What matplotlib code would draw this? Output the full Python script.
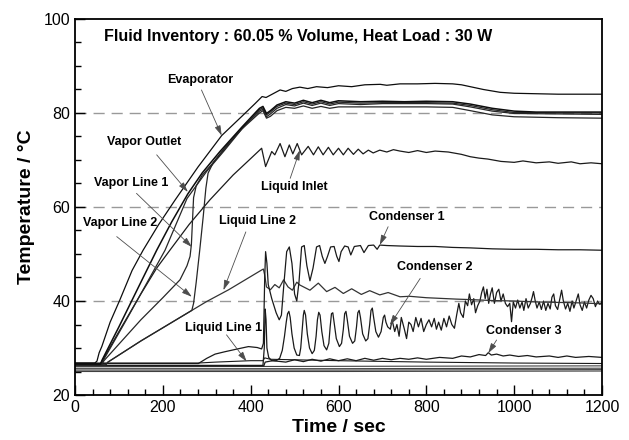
import matplotlib
matplotlib.use("Agg")
import matplotlib.pyplot as plt
from matplotlib.ticker import MultipleLocator

plt.rcParams['font.family'] = ['Liberation Sans', 'DejaVu Sans']

# ---- data (time in s, temperature in C) ----
evap_t = [0, 45, 50, 55, 61, 80, 102, 130, 155, 190, 228, 280, 334, 380, 410, 426, 435, 445, 467, 480,
          495, 512, 530, 550, 575, 600, 630, 660, 695, 710, 740, 780, 820, 860, 880, 900, 930, 968, 1000,
          1050, 1100, 1150, 1200]
evap_T = [26.8, 26.8, 27.2, 29.0, 30.3, 35.5, 40.2, 46.5, 50.8, 56.2, 61.5, 68.5, 75.2, 79.3, 82.0, 83.5,
          83.3, 83.8, 84.9, 84.6, 85.2, 85.5, 85.2, 85.6, 85.4, 85.8, 85.6, 86.0, 86.1, 85.9, 86.2, 86.2,
          86.3, 86.2, 86.0, 85.6, 85.0, 84.4, 84.2, 84.1, 84.0, 84.0, 84.0]

vo_a_t = [0, 58, 62, 100, 150, 186, 220, 257, 290, 330, 380, 420, 428, 436, 445, 460, 480, 500, 520, 540,
          560, 580, 600, 650, 700, 750, 800, 860, 900, 950, 1000, 1050, 1100, 1200]
vo_a_T = [26.6, 26.6, 27.5, 34.5, 44.0, 50.8, 56.8, 62.8, 67.3, 71.8, 77.0, 81.0, 81.4, 79.9, 80.5, 81.7,
          82.4, 82.1, 82.7, 82.2, 82.7, 82.2, 82.6, 82.4, 82.5, 82.4, 82.5, 82.4, 81.9, 81.0, 80.4, 80.2,
          80.2, 80.2]

vo_b_t = [0, 60, 64, 120, 205, 255, 300, 340, 380, 420, 428, 436, 445, 460, 480, 500, 520, 540, 560, 580,
          600, 650, 700, 800, 860, 900, 950, 1000, 1100, 1200]
vo_b_T = [26.6, 26.6, 27.3, 36.5, 50.8, 61.8, 67.6, 72.0, 76.6, 80.7, 81.1, 79.6, 80.2, 81.4, 82.1, 81.8,
          82.4, 81.9, 82.4, 81.9, 82.3, 82.1, 82.2, 82.2, 82.1, 81.6, 80.7, 80.1, 80.0, 80.0]

vl1_t = [0, 62, 66, 150, 200, 239, 255, 262, 265, 268, 270, 276, 290, 320, 380, 420, 428, 436, 445, 460,
         480, 500, 520, 540, 560, 580, 600, 650, 700, 800, 860, 900, 950, 1000, 1100, 1200]
vl1_T = [26.6, 26.6, 27.3, 36.0, 40.7, 44.5, 47.5, 49.5, 52.0, 58.0, 62.0, 64.5, 66.8, 70.0, 76.8, 80.4,
         80.8, 79.2, 79.8, 81.0, 81.8, 81.5, 82.1, 81.6, 82.1, 81.6, 82.0, 81.8, 82.0, 82.0, 81.9, 81.3,
         80.4, 79.9, 79.8, 79.7]

vl2_t = [0, 70, 75, 150, 200, 266, 270, 276, 284, 292, 298, 303, 315, 340, 380, 420, 428, 436, 445, 460,
         480, 500, 520, 540, 560, 580, 600, 700, 800, 860, 900, 950, 1000, 1100, 1200]
vl2_T = [26.4, 26.4, 27.0, 31.5, 34.3, 38.0, 39.5, 44.0, 50.8, 58.0, 64.0, 67.2, 69.5, 72.5, 76.6, 80.0,
         80.5, 78.9, 79.3, 80.5, 81.2, 81.0, 81.5, 81.0, 81.4, 81.0, 81.3, 81.3, 81.3, 81.2, 80.5, 79.6,
         79.2, 79.0, 78.9]

li_t = [0, 58, 62, 100, 150, 186, 216, 260, 307, 360, 400, 425, 434, 448, 455, 467, 478, 488, 496, 506,
        516, 531, 543, 554, 565, 577, 588, 600, 611, 622, 634, 645, 656, 668, 679, 694, 710, 725, 740, 760,
        780, 800, 820, 850, 880, 900, 920, 940, 970, 1000, 1020, 1050, 1080, 1100, 1130, 1150, 1175, 1200]
li_T = [26.6, 26.6, 27.3, 33.5, 41.5, 47.0, 50.8, 56.3, 61.5, 66.8, 70.3, 72.5, 68.6, 71.8, 71.1, 73.5,
        70.7, 73.2, 71.3, 73.5, 71.1, 72.9, 71.1, 72.8, 71.1, 72.7, 71.1, 72.5, 71.1, 72.5, 71.2, 72.3,
        71.3, 72.1, 71.5, 72.1, 71.7, 72.2, 71.9, 71.6, 72.0, 71.6, 71.9, 71.7, 71.2, 70.7, 70.4, 70.2,
        69.7, 69.5, 69.8, 69.4, 69.6, 69.3, 69.6, 69.2, 69.4, 69.2]

ll2_t = [0, 70, 75, 150, 200, 266, 300, 350, 400, 425, 429, 432, 436, 445, 455, 465, 475, 485, 495, 505,
         512, 535, 554, 573, 592, 611, 630, 652, 671, 694, 713, 740, 762, 800, 869, 900, 950, 1000, 1050,
         1100, 1150, 1200]
ll2_T = [26.4, 26.4, 27.0, 31.5, 34.3, 38.0, 39.9, 42.4, 45.2, 46.6, 46.8, 45.5, 43.0, 42.4, 43.5, 42.8,
         44.5, 43.0, 42.3, 44.0, 43.4, 42.3, 43.8, 42.0, 42.9, 41.6, 42.6, 41.4, 42.2, 41.3, 41.8, 40.9,
         41.0, 40.7, 40.4, 40.3, 40.1, 40.0, 39.8, 39.7, 39.6, 39.4]

c1_t = [0, 281, 300, 319, 341, 370, 395, 415, 425, 429, 432, 434, 437, 440, 448, 458, 465, 470, 476, 482,
        488, 494, 500, 505, 510, 516, 522, 528, 535, 542, 550, 557, 563, 569, 575, 582, 590, 596, 601, 606,
        614, 622, 628, 636, 650, 658, 668, 680, 688, 694, 710, 740, 780, 820, 860, 900, 950, 1000, 1050,
        1100, 1150, 1200]
c1_T = [26.7, 26.7, 27.8, 28.7, 29.2, 29.8, 30.3, 30.1, 29.8, 31.0, 45.0, 50.5, 48.0, 43.5, 40.5, 37.5,
        36.0, 37.0, 44.0, 50.5, 51.5, 48.0, 41.5, 40.0, 44.0, 51.5, 51.8, 47.5, 44.3, 47.0, 51.5, 51.8,
        49.5, 48.0, 49.5, 51.5, 51.6, 49.5, 48.4, 50.5, 51.7, 51.5, 49.8, 51.6, 51.8, 50.3, 51.8, 51.9,
        51.0, 51.9, 51.8, 51.7, 51.6, 51.6, 51.4, 51.3, 51.1, 51.0, 51.0, 50.9, 50.9, 50.8]

c2_t = [0, 428, 431, 433, 435, 437, 441, 448, 458, 466, 472, 477, 481, 484, 487, 490, 494, 499, 505, 511,
        514, 517, 520, 522, 525, 529, 534, 540, 545, 549, 552, 555, 558, 562, 567, 573, 578, 581, 584, 587,
        590, 595, 602, 607, 611, 614, 617, 620, 625, 632, 637, 641, 644, 647, 650, 655, 662, 667, 671, 674,
        677, 680, 685, 691, 697, 702, 705, 708, 712, 718, 722, 728, 733, 738, 743, 750, 755, 760, 765, 770,
        776, 782, 788, 794, 800, 806, 812, 818, 823, 828, 834, 840, 846, 852, 858, 864, 869, 874, 878, 884,
        889, 894, 898, 903, 908, 912, 917, 922, 926, 930, 934, 938, 942, 946, 950, 955, 960, 965, 970, 975,
        980, 985, 990, 994, 998, 1003, 1008, 1013, 1018, 1022, 1027, 1032, 1037, 1041, 1044, 1048, 1052,
        1057, 1062, 1067, 1072, 1077, 1082, 1086, 1090, 1094, 1099, 1104, 1108, 1112, 1117, 1122, 1127,
        1132, 1136, 1141, 1146, 1150, 1155, 1160, 1165, 1170, 1175, 1180, 1185, 1190, 1195, 1200]
c2_T = [26.3, 26.3, 30.0, 38.3, 36.0, 30.0, 28.0, 27.3, 27.3, 27.8, 29.5, 32.5, 35.5, 37.3, 37.8, 36.5,
        33.0, 30.0, 28.5, 28.4, 30.0, 33.5, 37.0, 38.0, 37.0, 33.0, 30.0, 28.8, 29.5, 32.5, 36.0, 37.6,
        37.0, 33.5, 30.5, 29.6, 31.0, 34.5, 37.3, 37.5, 35.5, 32.0, 30.3, 31.0, 34.0, 37.3, 37.8, 36.0,
        32.5, 31.0, 31.5, 34.5, 37.5, 38.0, 36.5, 33.0, 31.5, 32.0, 35.0, 38.0, 38.5, 36.5, 33.5, 32.3,
        33.5, 36.5, 37.0, 35.5, 34.5, 34.0, 36.0, 33.5, 35.0, 32.5, 36.5, 34.0, 32.0, 35.5, 35.0, 33.5,
        36.5, 34.5, 36.3, 33.5, 35.0, 36.0, 34.5, 36.3, 34.0, 35.5, 33.8, 36.3, 34.5, 36.8, 35.0, 34.2,
        37.0, 39.5, 37.5, 36.5, 40.0, 39.0, 41.5, 39.2, 40.5, 37.5, 39.0, 40.0, 41.8, 43.0, 40.5, 42.5,
        39.5, 41.5, 42.8, 39.5, 41.8, 42.5, 40.0, 41.5, 39.5, 38.8, 39.5, 35.6, 39.8, 38.5, 40.2, 38.5,
        39.8, 38.0, 40.5, 38.5, 39.5, 40.8, 42.0, 40.0, 38.5, 39.8, 38.2, 40.0, 38.0, 39.5, 38.3, 40.8,
        41.5, 39.0, 38.2, 40.5, 42.3, 40.0, 38.3, 39.5, 37.8, 40.0, 38.5, 40.0, 41.5, 39.2, 38.0, 39.8,
        38.5, 40.2, 41.2, 40.5, 38.8, 40.0, 39.3, 39.8]

c3_t = [0, 430, 433, 450, 480, 500, 520, 540, 560, 580, 600, 620, 640, 660, 680, 700, 720, 740, 760, 780,
        800, 830, 860, 880, 900, 920, 935, 941, 948, 960, 975, 990, 1010, 1030, 1050, 1080, 1100, 1120,
        1140, 1170, 1200]
c3_T = [26.2, 26.2, 27.0, 27.3, 27.0, 27.5, 27.1, 27.6, 27.2, 27.7, 27.3, 27.7, 27.3, 27.8, 27.4, 27.8,
        27.5, 27.8, 27.6, 27.9, 27.6, 28.0, 27.8, 28.3, 28.1, 28.6, 28.4, 29.0, 28.5, 28.7, 28.3, 28.5,
        28.2, 28.4, 28.1, 28.3, 28.0, 28.3, 28.0, 28.2, 28.0]

ll1_t = [0, 280, 320, 400, 428, 432, 445, 600, 800, 1000, 1200]
ll1_T = [26.8, 26.8, 27.0, 27.3, 27.3, 27.9, 27.6, 27.3, 27.0, 26.8, 26.7]

# unlabelled thermocouples near ambient
base_t = [0, 600, 1200]
base_T = [[26.0, 26.1, 26.2], [25.6, 25.6, 25.7], [25.3, 25.3, 25.4], [25.0, 25.0, 25.1]]

labels = ["Evaporator", "Vapor Outlet", "Vapor Line 1", "Vapor Line 2", "Liquid Line 2",
          "Liquid Inlet", "Condenser 1", "Condenser 2", "Liquid Line 1", "Condenser 3"]
label_pos = [(285, 87.0), (158, 73.9), (129, 65.2), (102, 56.5), (416, 57.1),
             (500, 64.3), (755, 57.8), (820, 47.3), (339, 34.3), (1021, 33.6)]
arrow_tail = [(288, 84.9), (186, 71.1), (140, 62.9), (95, 53.7), (389, 54.7),
              (490, 66.1), (713, 55.8), (786, 44.8), (345, 32.8), (960, 31.7)]
arrow_tip = [(334, 75.2), (257, 63.2), (266, 51.5), (266, 40.9), (338, 42.3),
             (512, 72.1), (694, 51.9), (717, 34.9), (391, 27.1), (941, 28.9)]

fig = plt.figure(figsize=(6.29, 4.40), dpi=100)
ax = fig.add_axes([75 / 629, 45 / 440, 527 / 629, 376 / 440])

for y in [40, 60, 80]:
    ax.axhline(y, color='0.6', lw=1.0, dashes=(8, 5), zorder=1)

for bT in base_T:
    ax.plot(base_t, bT, color='0.25', lw=0.8)
ax.plot(ll1_t, ll1_T, color='0.1', lw=0.8)
ax.plot(c3_t, c3_T, color='0.1', lw=0.9)
ax.plot(c2_t, c2_T, color='0.1', lw=0.9)
ax.plot(ll2_t, ll2_T, color='0.2', lw=0.9)
ax.plot(c1_t, c1_T, color='0.1', lw=0.9)
ax.plot(li_t, li_T, color='0.1', lw=0.9)
ax.plot(vl2_t, vl2_T, color='0.15', lw=0.9)
ax.plot(vl1_t, vl1_T, color='0.15', lw=0.9)
ax.plot(vo_b_t, vo_b_T, color='0.15', lw=0.9)
ax.plot(vo_a_t, vo_a_T, color='0.05', lw=1.1)
ax.plot(evap_t, evap_T, color='0.05', lw=0.9)

for lab, pos, tail, tip in zip(labels, label_pos, arrow_tail, arrow_tip):
    ax.text(pos[0], pos[1], lab, fontsize=9, fontweight='bold', ha='center', va='center')
    ax.annotate('', xy=tip, xytext=tail,
                arrowprops=dict(arrowstyle='-|>,head_length=0.6,head_width=0.18',
                                color='0.3', lw=0.6, shrinkA=0, shrinkB=0))

ax.text(0.423, 0.953, 'Fluid Inventory : 60.05 % Volume, Heat Load : 30 W', transform=ax.transAxes,
        fontsize=11.5, fontweight='bold', ha='center', va='center')

ax.set_xlim(0, 1200)
ax.set_ylim(20, 100)
ax.xaxis.set_major_locator(MultipleLocator(200))
ax.xaxis.set_minor_locator(MultipleLocator(40))
ax.yaxis.set_major_locator(MultipleLocator(20))
ax.yaxis.set_minor_locator(MultipleLocator(5))
ax.tick_params(which='both', direction='in', top=False, right=False, labelsize=11.5, width=1.0)
ax.tick_params(which='major', length=7)
ax.tick_params(which='minor', length=4)
for s in ax.spines.values():
    s.set_linewidth(1.3)

ax.set_xlabel('Time / sec', fontsize=14, fontweight='bold')
ax.set_ylabel('Temperature / °C', fontsize=14, fontweight='bold')
ax.xaxis.set_label_coords(0.5, -0.065)
ax.yaxis.set_label_coords(-0.076, 0.5)

fig.savefig('out.png', dpi=100)
